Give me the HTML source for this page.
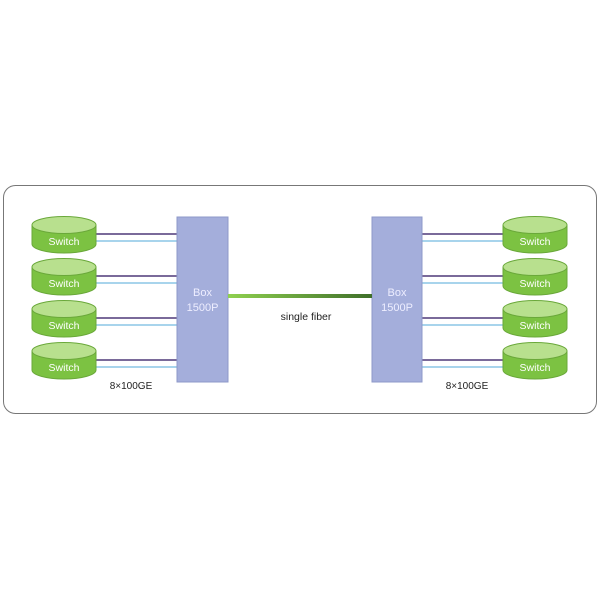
<!DOCTYPE html>
<html><head><style>body{margin:0;background:#fff}</style></head><body>
<svg width="600" height="600" xmlns="http://www.w3.org/2000/svg" font-family="Liberation Sans, sans-serif">
<defs>
<linearGradient id="f" x1="0" x2="1"><stop offset="0" stop-color="#8fd14f"/><stop offset="1" stop-color="#3f6f2a"/></linearGradient>
</defs>
<rect x="3.5" y="185.5" width="593" height="228" rx="12" fill="#fff" stroke="#777"/>
<g id="L">
<g>
<line x1="96" y1="234" x2="177" y2="234" stroke="#7a6a9a" stroke-width="2"/>
<line x1="96" y1="241" x2="177" y2="241" stroke="#a8d4ec" stroke-width="2"/>
<path d="M32,225 v19 a32,9 0 0 0 64,0 v-19" fill="#7cc242" stroke="#6aa83a"/>
<ellipse cx="64" cy="225" rx="32" ry="8.5" fill="#b8e08e" stroke="#6aa83a"/>
<text x="64" y="245" fill="#fff" font-size="10.5" text-anchor="middle">Switch</text>
</g>
</g>
<use href="#L" y="42"/><use href="#L" y="84"/><use href="#L" y="126"/>
<g id="R">
<line x1="422" y1="234" x2="503" y2="234" stroke="#7a6a9a" stroke-width="2"/>
<line x1="422" y1="241" x2="503" y2="241" stroke="#a8d4ec" stroke-width="2"/>
<path d="M503,225 v19 a32,9 0 0 0 64,0 v-19" fill="#7cc242" stroke="#6aa83a"/>
<ellipse cx="535" cy="225" rx="32" ry="8.5" fill="#b8e08e" stroke="#6aa83a"/>
<text x="535" y="245" fill="#fff" font-size="10.5" text-anchor="middle">Switch</text>
</g>
<use href="#R" y="42"/><use href="#R" y="84"/><use href="#R" y="126"/>
<rect x="177" y="217" width="51" height="165" fill="#a4aedb" stroke="#8e98c8"/>
<rect x="372" y="217" width="50" height="165" fill="#a4aedb" stroke="#8e98c8"/>
<text x="202.5" y="296" fill="#eef" font-size="11" text-anchor="middle">Box</text>
<text x="202.5" y="311" fill="#eef" font-size="11" text-anchor="middle">1500P</text>
<text x="397" y="296" fill="#eef" font-size="11" text-anchor="middle">Box</text>
<text x="397" y="311" fill="#eef" font-size="11" text-anchor="middle">1500P</text>
<rect x="228" y="294" width="144" height="4" fill="url(#f)"/>
<text x="306" y="320" font-size="10.5" text-anchor="middle" fill="#222">single fiber</text>
<text x="131" y="389" font-size="10" text-anchor="middle" fill="#222">8×100GE</text>
<text x="467" y="389" font-size="10" text-anchor="middle" fill="#222">8×100GE</text>
</svg>
</body></html>
